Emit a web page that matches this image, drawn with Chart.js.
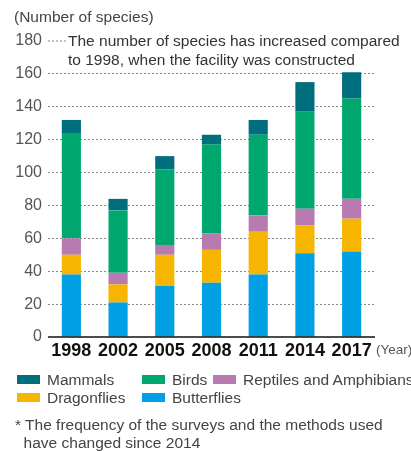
<!DOCTYPE html>
<html>
<head>
<meta charset="utf-8">
<script src="https://cdn.jsdelivr.net/npm/chart.js@4.4.1/dist/chart.umd.min.js"></script>
<style>
  html, body { margin: 0; padding: 0; background: #fff; }
  #wrap { position: relative; width: 411px; height: 451px; overflow: hidden; font-family: "Liberation Sans", Arial, sans-serif; }
  #grafico { position: absolute; left: 0; top: 0; }
  .txt { position: absolute; color: #444; white-space: nowrap; }
  .item { position: absolute; font-size: 15.5px; color: #444; line-height: 18px; white-space: nowrap; }
  .item span.box { display: inline-block; width: 23px; height: 9px; margin-right: 7px; vertical-align: 1px; }
</style>
</head>
<body>
<div id="wrap">
  <canvas id="grafico" width="411" height="451"></canvas>
  <div class="txt" style="left:14px; top:8px; font-size:15.5px;">(Number of species)</div>
  <div id="legenda"></div>
  <div class="txt" style="left:15px; top:416px; font-size:15.5px; line-height:18px;">* The frequency of the surveys and the methods used<br>&nbsp;&nbsp;have changed since 2014</div>
</div>
<script>
// Dados (número de espécies por grupo)
const anos = ['1998', '2002', '2005', '2008', '2011', '2014', '2017'];
const borboletas = [38, 21, 31, 33, 38, 51, 52];   // Butterflies
const liblulas = [12, 11, 19, 20, 26, 17, 20];     // Dragonflies
const repteis = [10, 7, 6, 10, 10, 10, 12];        // Reptiles and Amphibians
const aves = [64, 38, 46, 54, 49, 59, 61];         // Birds
const mamiferos = [8, 7, 8, 6, 9, 18, 16];         // Mammals
const ticksY = [0, 20, 40, 60, 80, 100, 120, 140, 160, 180];

const cores = {
    Mammals: '#006e7c',
    Birds: '#00a86f',
    'Reptiles and Amphibians': '#b87bb1',
    Dragonflies: '#f5b500',
    Butterflies: '#00a0e4'
};

// Legenda em HTML (duas linhas, como no original)
const itensLegenda = [
    { nome: 'Mammals', x: 17, y: 371 },
    { nome: 'Birds', x: 142, y: 371 },
    { nome: 'Reptiles and Amphibians', x: 213, y: 371 },
    { nome: 'Dragonflies', x: 17, y: 389 },
    { nome: 'Butterflies', x: 142, y: 389 }
];
const legenda = document.getElementById('legenda');
itensLegenda.forEach(it => {
    const d = document.createElement('div');
    d.className = 'item';
    d.style.left = it.x + 'px';
    d.style.top = it.y + 'px';
    d.innerHTML = '<span class="box" style="background:' + cores[it.nome] + '"></span>' + it.nome;
    legenda.appendChild(d);
});

// Plugin para a anotação, a linha pontilhada curta do 180 e o "(Year)"
const textosExtras = {
    id: 'textosExtras',
    afterDraw(chart) {
        const ctx = chart.ctx;
        const y = chart.scales.y;
        const area = chart.chartArea;
        const y180 = y.getPixelForValue(180);
        ctx.save();
        // linha pontilhada curta até a anotação
        ctx.strokeStyle = '#888';
        ctx.lineWidth = 1;
        ctx.setLineDash([2, 2]);
        ctx.beginPath();
        ctx.moveTo(area.left, y180);
        ctx.lineTo(area.left + 18, y180);
        ctx.stroke();
        ctx.setLineDash([]);
        ctx.fillStyle = '#333';
        ctx.font = '15.5px "Liberation Sans", Arial, sans-serif';
        ctx.textBaseline = 'middle';
        ctx.textAlign = 'left';
        ctx.fillText('The number of species has increased compared', area.left + 20, y180 + 1);
        ctx.fillText('to 1998, when the facility was constructed', area.left + 20, y180 + 20);
        // eixo x sólido
        ctx.strokeStyle = '#111';
        ctx.lineWidth = 1.5;
        ctx.beginPath();
        ctx.moveTo(area.left, area.bottom);
        ctx.lineTo(area.right, area.bottom);
        ctx.stroke();
        // "(Year)"
        ctx.fillStyle = '#555';
        ctx.font = '13.5px "Liberation Sans", Arial, sans-serif';
        ctx.fillText('(Year)', area.right + 1, area.bottom + 13);
        ctx.restore();
    }
};

function gerarGrafico() {
    const ctx = document.getElementById('grafico').getContext('2d');
    const series = [
        ['Butterflies', borboletas],
        ['Dragonflies', liblulas],
        ['Reptiles and Amphibians', repteis],
        ['Birds', aves],
        ['Mammals', mamiferos]
    ];
    new Chart(ctx, {
        type: 'bar',
        data: {
            labels: anos,
            datasets: series.map(s => ({
                label: s[0],
                data: s[1],
                backgroundColor: cores[s[0]],
                borderWidth: 0,
                barPercentage: 0.41,
                categoryPercentage: 1
            }))
        },
        options: {
            responsive: false,
            animation: false,
            layout: { padding: { top: 41, bottom: 86, left: 0, right: 36 } },
            scales: {
                x: {
                    stacked: true,
                    grid: { display: false, drawTicks: false },
                    border: { display: false },
                    ticks: {
                        color: '#111',
                        padding: 3,
                        font: { family: '"Liberation Sans", Arial, sans-serif', size: 18, weight: 'bold' }
                    },
                    afterFit: scale => { scale.height = 28; }
                },
                y: {
                    stacked: true,
                    min: 0,
                    max: 180,
                    afterBuildTicks: scale => { scale.ticks = ticksY.map(v => ({ value: v })); },
                    grid: {
                        color: ctx => (ctx.tick && ctx.tick.value > 0 && ctx.tick.value < 180) ? '#888' : 'rgba(0,0,0,0)',
                        lineWidth: 1,
                        drawTicks: false
                    },
                    border: { display: false, dash: [2, 2] },
                    ticks: {
                        color: '#555',
                        padding: 6,
                        font: { family: '"Liberation Sans", Arial, sans-serif', size: 16 }
                    },
                    afterFit: scale => { scale.width = 48; }
                }
            },
            plugins: {
                legend: { display: false },
                tooltip: { enabled: false }
            }
        },
        plugins: [textosExtras]
    });
}

gerarGrafico();
</script>
</body>
</html>
